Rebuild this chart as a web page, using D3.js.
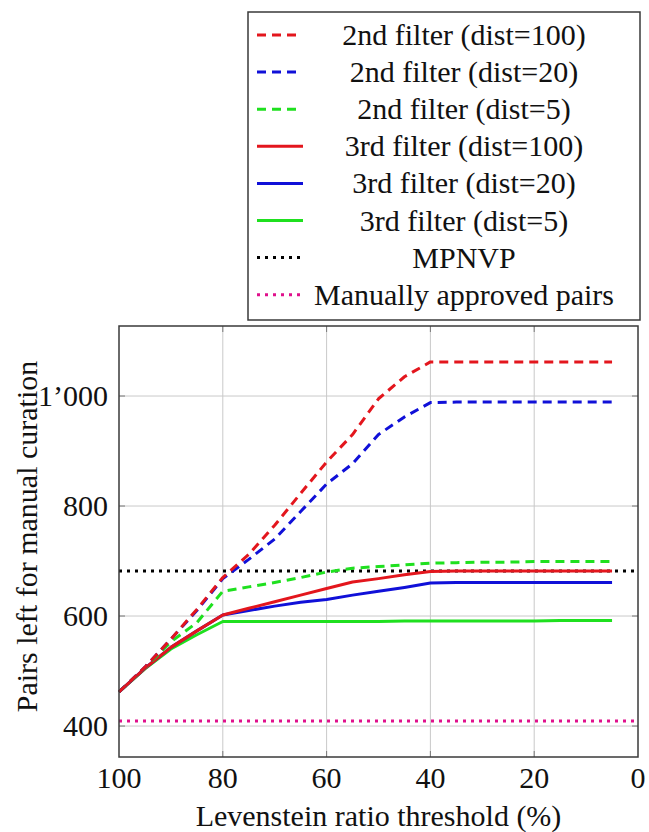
<!DOCTYPE html>
<html>
<head>
<meta charset="utf-8">
<script src="https://cdn.jsdelivr.net/npm/d3@7"></script>
<style>
	body { margin: 0; background: #fff; }
	svg { display: block; }
</style>
</head>
<body>
<div id="app"></div>
<script>
// thresholds on x (Levenstein ratio, %)
const thresholds = [100, 95, 90, 85, 80, 75, 70, 65, 60, 55, 50, 45, 40, 35, 30, 25, 20, 15, 10, 5];

const second100 = [462, 507, 558, 612, 670, 712, 765, 823, 880, 930, 995, 1035, 1062, 1062, 1062, 1062, 1062, 1062, 1062, 1062];
const second20  = [462, 507, 558, 610, 668, 703, 740, 790, 840, 877, 930, 962, 988, 989, 989, 989, 989, 989, 989, 989];
const second5   = [462, 506, 553, 588, 645, 653, 661, 670, 680, 687, 690, 693, 696, 697, 698, 698, 699, 699, 699, 699];
const third100  = [462, 505, 543, 573, 602, 614, 626, 638, 650, 662, 668, 675, 681, 682, 682, 682, 682, 682, 682, 682];
const third20   = [462, 505, 543, 573, 602, 610, 618, 625, 630, 638, 645, 652, 660, 661, 661, 661, 661, 661, 661, 661];
const third5    = [462, 504, 540, 566, 590, 590, 590, 590, 590, 590, 590, 591, 591, 591, 591, 591, 591, 592, 592, 592];

const mpnvp = 682;
const approved = 409;

const xTicks = [100, 80, 60, 40, 20, 0];
const yTicks = [400, 600, 800, 1000];
const yTickLabels = ["400", "600", "800", "1\u2019000"];

const seriesNames = [
	"2nd filter (dist=100)", "2nd filter (dist=20)", "2nd filter (dist=5)",
	"3rd filter (dist=100)", "3rd filter (dist=20)", "3rd filter (dist=5)",
	"MPNVP", "Manually approved pairs"
];

const colors = {
	red: "#e3161d",
	blue: "#1010d8",
	green: "#1fe01f",
	black: "#000",
	magenta: "#e0108c"
};

const dash = { dashed: "9,6", dotted: "3,5", solid: null };
const FONT = "'Liberation Serif', serif";

const series = [
	{ name: seriesNames[0], values: second100, color: colors.red, style: "dashed" },
	{ name: seriesNames[1], values: second20, color: colors.blue, style: "dashed" },
	{ name: seriesNames[2], values: second5, color: colors.green, style: "dashed" },
	{ name: seriesNames[3], values: third100, color: colors.red, style: "solid" },
	{ name: seriesNames[4], values: third20, color: colors.blue, style: "solid" },
	{ name: seriesNames[5], values: third5, color: colors.green, style: "solid" }
];

const refLines = [
	{ name: seriesNames[6], value: mpnvp, color: colors.black, style: "dotted" },
	{ name: seriesNames[7], value: approved, color: colors.magenta, style: "dotted" }
];

const W = 649, H = 832;
const plot = { left: 119, right: 638, top: 326, bottom: 757 };

const svg = d3.select("#app").append("svg")
	.attr("width", W)
	.attr("height", H);

const yMin = d3.min([approved, ...third5]);
const yMax = d3.max(second100);
const pad = (yMax - yMin) * 0.1;

const x = d3.scaleLinear().domain([100, 0]).range([plot.left, plot.right]);
const y = d3.scaleLinear().domain([yMin - pad, yMax + pad]).range([plot.bottom, plot.top]);

function label(sel) {
	return sel
		.style("font-family", FONT)
		.attr("font-size", 30)
		.attr("fill", "#111");
}

// grid
const grid = svg.append("g").attr("stroke", "#c9c9c9").attr("stroke-width", 1);
xTicks.slice(1, -1).forEach(t => {
	grid.append("line")
		.attr("x1", x(t)).attr("x2", x(t))
		.attr("y1", plot.top).attr("y2", plot.bottom);
});
yTicks.forEach(t => {
	grid.append("line")
		.attr("x1", plot.left).attr("x2", plot.right)
		.attr("y1", y(t)).attr("y2", y(t));
});

// small inner ticks on all four sides
const ticks = svg.append("g").attr("stroke", "#7a7a7a").attr("stroke-width", 1);
xTicks.slice(1, -1).forEach(t => {
	ticks.append("line").attr("x1", x(t)).attr("x2", x(t)).attr("y1", plot.bottom).attr("y2", plot.bottom - 6);
	ticks.append("line").attr("x1", x(t)).attr("x2", x(t)).attr("y1", plot.top).attr("y2", plot.top + 6);
});
yTicks.forEach(t => {
	ticks.append("line").attr("x1", plot.left).attr("x2", plot.left + 6).attr("y1", y(t)).attr("y2", y(t));
	ticks.append("line").attr("x1", plot.right).attr("x2", plot.right - 6).attr("y1", y(t)).attr("y2", y(t));
});

// reference lines
refLines.forEach(r => {
	svg.append("path")
		.datum([100, 0])
		.attr("d", d3.line().x(d => x(d)).y(() => y(r.value)))
		.attr("fill", "none")
		.attr("stroke", r.color)
		.attr("stroke-width", 3)
		.attr("stroke-dasharray", dash[r.style]);
});

// data lines
const line = d3.line()
	.x(d => x(d[0]))
	.y(d => y(d[1]));

series.slice().reverse().forEach(s => {
	svg.append("path")
		.datum(thresholds.map((t, i) => [t, s.values[i]]))
		.attr("d", line)
		.attr("fill", "none")
		.attr("stroke", s.color)
		.attr("stroke-width", 3)
		.attr("stroke-linejoin", "round")
		.attr("stroke-dasharray", dash[s.style]);
});

// frame
svg.append("rect")
	.attr("x", plot.left).attr("y", plot.top)
	.attr("width", plot.right - plot.left)
	.attr("height", plot.bottom - plot.top)
	.attr("fill", "none")
	.attr("stroke", "#3a3a3a")
	.attr("stroke-width", 1.5);

// tick labels
svg.append("g").selectAll("text")
	.data(xTicks)
	.enter().append("text")
	.attr("x", d => x(d))
	.attr("y", 788)
	.attr("text-anchor", "middle")
	.call(label)
	.text(d => d);

svg.append("g").selectAll("text")
	.data(yTicks)
	.enter().append("text")
	.attr("x", 108)
	.attr("y", d => y(d) + 10)
	.attr("text-anchor", "end")
	.call(label)
	.text((d, i) => yTickLabels[i]);

// axis titles
svg.append("text")
	.attr("x", (plot.left + plot.right) / 2)
	.attr("y", 826)
	.attr("text-anchor", "middle")
	.call(label)
	.text("Levenstein ratio threshold (%)");

svg.append("text")
	.attr("transform", "translate(37," + ((plot.top + plot.bottom) / 2 - 5) + ") rotate(-90)")
	.attr("text-anchor", "middle")
	.call(label)
	.text("Pairs left for manual curation");

// legend
const legend = svg.append("g");
legend.append("rect")
	.attr("x", 248).attr("y", 12)
	.attr("width", 392).attr("height", 308)
	.attr("fill", "#fff")
	.attr("stroke", "#3a3a3a")
	.attr("stroke-width", 1.5);

const legendItems = [...series, ...refLines];
legendItems.forEach((s, i) => {
	const cy = 35 + i * 37.1;
	legend.append("line")
		.attr("x1", 257).attr("x2", s.style == "dashed" ? 297 : 303)
		.attr("y1", cy).attr("y2", cy)
		.attr("stroke", s.color)
		.attr("stroke-width", 3)
		.attr("stroke-dasharray", dash[s.style]);
	legend.append("text")
		.attr("x", 464)
		.attr("y", cy + 10)
		.attr("text-anchor", "middle")
		.call(label)
		.text(s.name);
});
</script>
</body>
</html>
